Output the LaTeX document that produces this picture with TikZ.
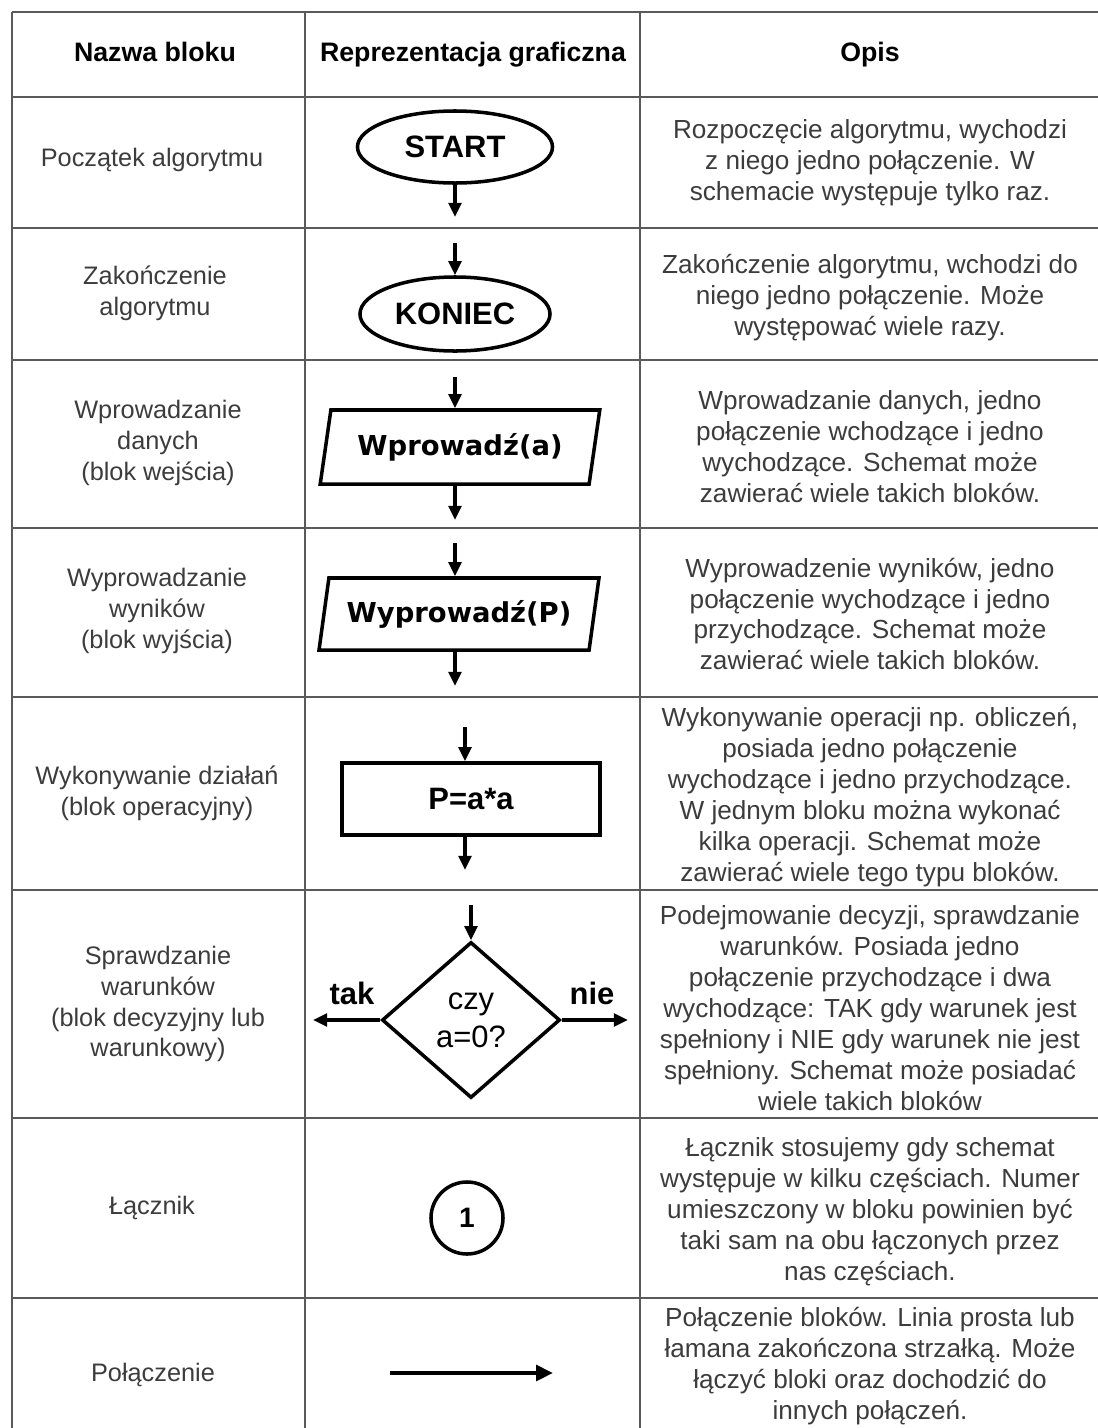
\documentclass[tikz,border=0pt]{standalone}
\usepackage{fontspec}
\setmainfont{Liberation Sans}
\newfontfamily\wideb{DejaVu Sans}
\usetikzlibrary{shapes.geometric,arrows.meta}
\definecolor{txtgray}{HTML}{3C3C3C}
\definecolor{rulegray}{HTML}{5A5A5A}
\tikzset{
  grid line/.style={rulegray, line width=1.3pt},
  head/.style={anchor=base, font=\bfseries\fontsize{19}{22}\selectfont},
  name cell/.style={align=center, text=txtgray, font=\fontsize{18}{22}\selectfont},
  desc cell/.style={align=center, text=txtgray, font=\fontsize{18.6}{22}\selectfont},
  block/.style={draw, line width=2.5pt, inner sep=0pt},
  flow/.style={line width=2.3pt, -{Triangle[length=10pt,width=9pt]}},
}
\begin{document}
\begin{tikzpicture}[x=0.025cm, y=-0.025cm]
\useasboundingbox (0,0) rectangle (1098,1428);
% table grid
\foreach \yy in {12,97,228,360,528,697,890,1118,1298}
  \draw[grid line] (12,\yy) -- (1098,\yy);
\foreach \xx in {12,305,640}
  \draw[grid line] (\xx,12) -- (\xx,1428);
% header
\node[head] (h1) at (155,61) {Nazwa bloku};
\node[head] (h2) at (473,61) {Reprezentacja graficzna};
\node[head] (h3) at (870,61) {Opis};
% block names
\node[name cell] (n1) at (152,160) {Początek algorytmu};
\node[name cell] (n2) at (155,293) {Zakończenie\\algorytmu};
\node[name cell] (n3) at (158,443) {Wprowadzanie\\danych\\(blok wejścia)};
\node[name cell] (n4) at (157,611) {Wyprowadzanie\\wyników\\(blok wyjścia)};
\node[name cell] (n5) at (157,793) {Wykonywanie działań\\(blok operacyjny)};
\node[name cell] (n6) at (158,1004) {Sprawdzanie\\warunków\\(blok decyzyjny lub\\warunkowy)};
\node[name cell] (n7) at (152,1208) {Łącznik};
\node[name cell] (n8) at (153,1375) {Połączenie};
% descriptions
\node[desc cell] (d1) at (870,163) {Rozpoczęcie algorytmu, wychodzi\\z niego jedno połączenie. W\\schemacie występuje tylko raz.};
\node[desc cell] (d2) at (870,298) {Zakończenie algorytmu, wchodzi do\\niego jedno połączenie. Może\\występować wiele razy.};
\node[desc cell] (d3) at (870,447) {Wprowadzanie danych, jedno\\połączenie wchodzące i jedno\\wychodzące. Schemat może\\zawierać wiele takich bloków.};
\node[desc cell] (d4) at (870,614) {Wyprowadzenie wyników, jedno\\połączenie wychodzące i jedno\\przychodzące. Schemat może\\zawierać wiele takich bloków.};
\node[desc cell] (d5) at (870,797) {Wykonywanie operacji np. obliczeń,\\posiada jedno połączenie\\wychodzące i jedno przychodzące.\\W jednym bloku można wykonać\\kilka operacji. Schemat może\\zawierać wiele tego typu bloków.};
\node[desc cell] (d6) at (870,1008) {Podejmowanie decyzji, sprawdzanie\\warunków. Posiada jedno\\połączenie przychodzące i dwa\\wychodzące: TAK gdy warunek jest\\spełniony i NIE gdy warunek nie jest\\spełniony. Schemat może posiadać\\wiele takich bloków};
\node[desc cell] (d7) at (870,1212) {Łącznik stosujemy gdy schemat\\występuje w kilku częściach. Numer\\umieszczony w bloku powinien być\\taki sam na obu łączonych przez\\nas częściach.};
\node[desc cell] (d8) at (870,1366) {Połączenie bloków. Linia prosta lub\\łamana zakończona strzałką. Może\\łączyć bloki oraz dochodzić do\\innych połączeń.};
% graphic blocks
\node[block, ellipse, minimum width=4.875cm, minimum height=1.8cm,
  font=\bfseries\fontsize{22}{24}\selectfont] (start) at (455,147) {START};
\coordinate (start out) at (455,217);
\draw[flow] (start) -- (start out);

\coordinate (end in) at (455,243);
\node[block, ellipse, minimum width=4.75cm, minimum height=1.85cm,
  font=\bfseries\fontsize{22}{24}\selectfont] (koniec) at (455,314) {KONIEC};
\draw[flow] (end in) -- (koniec);

\coordinate (read in) at (455,377);
\coordinate (read out) at (455,520);
\node[block, trapezium, trapezium left angle=73, trapezium right angle=107,
  trapezium stretches=true, minimum width=7cm, minimum height=1.85cm,
  font=\wideb\bfseries\fontsize{19.5}{22}\selectfont] (read) at (460,447) {Wprowadź(a)};
\draw[flow] (read in) -- (read in |- read.north);
\draw[flow] (read in |- read.south) -- (read out);

\coordinate (write in) at (455,543);
\coordinate (write out) at (455,686);
\node[block, trapezium, trapezium left angle=73, trapezium right angle=107,
  trapezium stretches=true, minimum width=7cm, minimum height=1.8cm,
  font=\wideb\bfseries\fontsize{19.5}{22}\selectfont] (write) at (459,614) {Wyprowadź(P)};
\draw[flow] (write in) -- (write in |- write.north);
\draw[flow] (write in |- write.south) -- (write out);

\coordinate (op in) at (465,727);
\coordinate (op out) at (465,870);
\node[block, rectangle, minimum width=6.45cm, minimum height=1.8cm,
  font=\bfseries\fontsize{22}{24}\selectfont] (op) at (471,799) {P=a*a};
\draw[flow] (op in) -- (op in |- op.north);
\draw[flow] (op in |- op.south) -- (op out);

\coordinate (dec in) at (471,905);
\coordinate (dec yes) at (313,1020);
\coordinate (dec no) at (628,1020);
\node[block, diamond, minimum width=4.45cm, minimum height=3.9cm, align=center,
  font=\fontsize{22}{27}\selectfont] (dec) at (471,1020) {czy\\a=0?};
\draw[flow] (dec in) -- (dec.north);
\draw[flow] (dec.west) -- (dec yes);
\draw[flow] (dec.east) -- (dec no);
\node[font=\bfseries\fontsize{22}{24}\selectfont] (yes lbl) at (352,993) {tak};
\node[font=\bfseries\fontsize{22}{24}\selectfont] (no lbl) at (592,993) {nie};

\node[block, circle, minimum size=1.8cm,
  font=\bfseries\fontsize{20}{22}\selectfont] (link) at (467,1218) {1};

\coordinate (conn a) at (390,1373);
\coordinate (conn b) at (553,1373);
\draw[line width=3.4pt, -{Triangle[length=12pt,width=11pt]}] (conn a) -- (conn b);
\end{tikzpicture}
\end{document}
